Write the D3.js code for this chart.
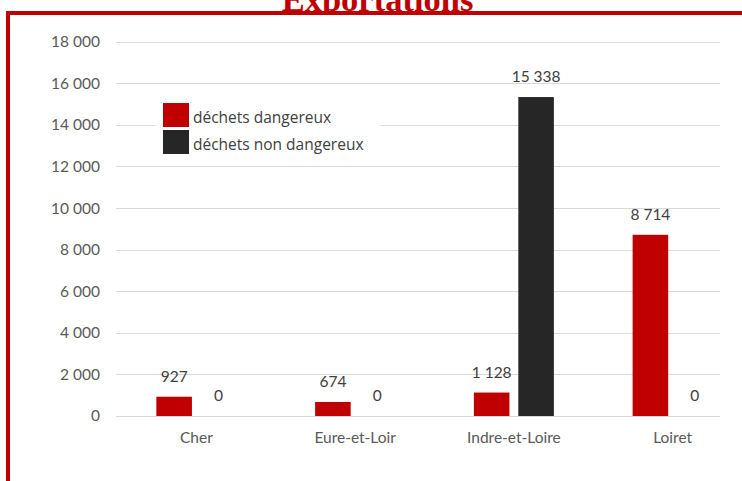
<!DOCTYPE html>
<html>
<head>
<meta charset="utf-8">
<script src="https://cdn.jsdelivr.net/npm/d3@7"></script>
<style>
  body { margin: 0; background: #fff; }
  svg { display: block; }
</style>
</head>
<body>
<div id="chart"></div>
<script>
// Data
var categories = ['Cher', 'Eure-et-Loir', 'Indre-et-Loire', 'Loiret']
var seriesNames = ['déchets dangereux', 'déchets non dangereux']
var dangereux = [927, 674, 1128, 8714]
var nonDangereux = [0, 0, 15338, 0]
var yTicks = [0, 2000, 4000, 6000, 8000, 10000, 12000, 14000, 16000, 18000]
var title = 'Exportations'

var colors = ['#c00000', '#262626']

// Dimensions
var width = 742
var height = 481
var gridLeft = 116
var gridRight = 720

// french number format: 15 338
var fr = d3.formatLocale({ decimal: ',', thousands: '\u00a0', grouping: [3], currency: ['', ' €'] })
var fmt = fr.format(',d')

var rows = categories.map(function (c, i) {
  return { cat: c, values: [dangereux[i], nonDangereux[i]] }
})

var svg = d3.select('#chart').append('svg')
  .attr('width', width)
  .attr('height', height)

// Title (cut off by the frame, as in the source)
svg.append('text')
  .attr('x', 377.5)
  .attr('y', 10.5)
  .attr('text-anchor', 'middle')
  .style('font-family', '"Liberation Serif", "Times New Roman", serif')
  .style('font-weight', 'bold')
  .style('font-size', '34.5px')
  .style('fill', '#c00000')
  .text(title)

// Frame
svg.append('rect')
  .attr('x', 8).attr('y', 13)
  .attr('width', width).attr('height', height)
  .attr('fill', '#fff')
svg.append('path')
  .attr('d', 'M8,' + height + 'V13H' + width)
  .attr('fill', 'none')
  .attr('stroke', '#c00000')
  .attr('stroke-width', 4)

// Scales
var y = d3.scaleLinear().domain([0, 18000]).range([416, 41.7])

var x0 = d3.scaleBand()
  .domain(categories)
  .range([117, 752])
  .paddingInner(0.496)
  .paddingOuter(0.248)

var x1 = d3.scaleBand()
  .domain([0, 1])
  .range([0, x0.bandwidth()])
  .paddingInner(0.2)

// Gridlines
svg.append('g').selectAll('line')
  .data(yTicks)
  .enter().append('line')
  .attr('x1', gridLeft).attr('x2', gridRight)
  .attr('y1', function (d) { return Math.round(y(d)) + 0.5 })
  .attr('y2', function (d) { return Math.round(y(d)) + 0.5 })
  .attr('stroke', '#d9d9d9')
  .attr('stroke-width', 1.2)

// Y axis labels
var yAxis = d3.axisLeft(y).tickValues(yTicks).tickFormat(fmt).tickSize(0).tickPadding(0)
var gy = svg.append('g')
  .attr('transform', 'translate(100,0)')
  .call(yAxis)
gy.select('.domain').remove()
gy.selectAll('text')
  .style('font-family', 'Lato, sans-serif')
  .style('font-size', '15.5px')
  .style('fill', '#595959')

// X axis labels
var xAxis = d3.axisBottom(x0).tickSize(0).tickPadding(0)
var gx = svg.append('g')
  .attr('transform', 'translate(0,432)')
  .call(xAxis)
gx.select('.domain').remove()
gx.selectAll('text')
  .attr('dy', '0.71em')
  .style('font-family', 'Lato, sans-serif')
  .style('font-size', '15.5px')
  .style('fill', '#595959')

// Bars
var groups = svg.append('g').selectAll('.group')
  .data(rows)
  .enter().append('g')
  .attr('class', 'group')
  .attr('transform', function (d) { return 'translate(' + x0(d.cat) + ',0)' })

groups.selectAll('rect')
  .data(function (d) { return d.values })
  .enter().append('rect')
  .attr('x', function (d, i) { return x1(i) })
  .attr('width', x1.bandwidth())
  .attr('y', function (d) { return y(d) })
  .attr('height', function (d) { return y(0) - y(d) })
  .attr('fill', function (d, i) { return colors[i] })

groups.selectAll('.label')
  .data(function (d) { return d.values })
  .enter().append('text')
  .attr('class', 'label')
  .attr('x', function (d, i) { return x1(i) + x1.bandwidth() / 2 })
  .attr('y', function (d) { return y(d) - 15 })
  .attr('text-anchor', 'middle')
  .style('font-family', 'Lato, sans-serif')
  .style('font-size', '15.5px')
  .style('fill', '#404040')
  .text(function (d) { return fmt(d) })

// Legend
var legend = svg.append('g')
legend.append('rect')
  .attr('x', 155).attr('y', 97)
  .attr('width', 226).attr('height', 63)
  .attr('fill', '#fff')

var items = legend.selectAll('.item')
  .data(seriesNames)
  .enter().append('g')
  .attr('class', 'item')
  .attr('transform', function (d, i) { return 'translate(163,' + (103 + i * 27) + ')' })

items.append('rect')
  .attr('width', 26).attr('height', 24)
  .attr('fill', function (d, i) { return colors[i] })

items.append('text')
  .attr('x', 30).attr('y', 20)
  .style('font-family', '"Open Sans", sans-serif')
  .style('font-size', '15.5px')
  .style('fill', '#404040')
  .text(function (d) { return d })
</script>
</body>
</html>
